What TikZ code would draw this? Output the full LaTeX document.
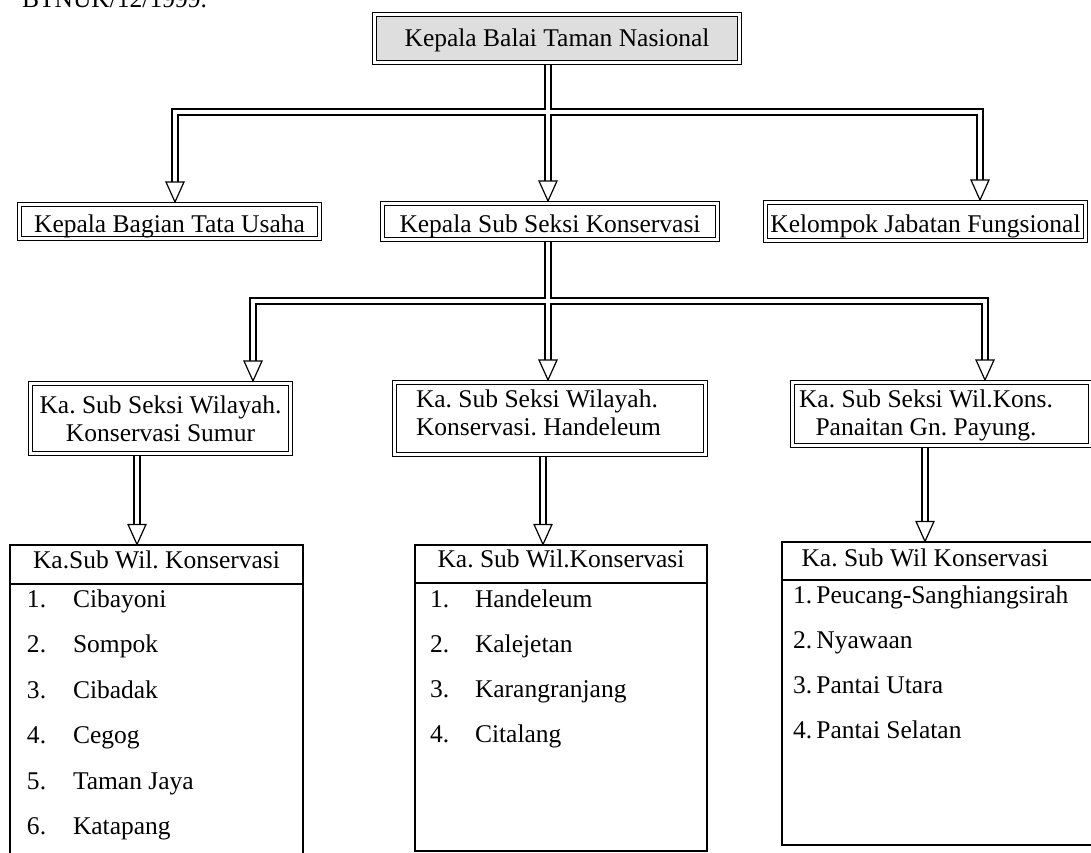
\documentclass[tikz,border=0pt]{standalone}
\usepackage{fontspec}
\setmainfont{Liberation Serif}
\usetikzlibrary{backgrounds,calc}
\frenchspacing
\newcommand\orgnet[1]{%
  \draw[#1] ($(p11)+(0,-19)$) -- (a11) -- (a13) -- ($(p13)+(0,-19)$);
  \draw[#1] (top.center -| j1) -- ($(p12)+(0,-19)$);
  \draw[#1] ($(p21)+(0,-19)$) -- (a21) -- (a23) -- ($(p23)+(0,-19)$);
  \draw[#1] (ksk.center -| j2) -- ($(p22)+(0,-19)$);
  \draw[#1] (sumur.center -| k1) -- ($(p31)+(0,-19)$);
  \draw[#1] (hand.center -| k2) -- ($(p32)+(0,-19)$);
  \draw[#1] (pan.center -| k3) -- ($(p33)+(0,-19)$);
}
\begin{document}
\begin{tikzpicture}[x=1pt,y=-1pt,
  every node/.style={inner sep=0pt, outer sep=0pt, font=\fontsize{25.5}{28}\selectfont\frenchspacing},
  dbox/.style={draw, line width=1.2pt, double, double distance=2.6pt, fill=white},
  topbox/.style={dbox, fill=black!13, text height=21pt, text depth=4pt},
  lvlone/.style={dbox, text height=24pt, text depth=3pt},
  tabhead/.style={draw, line width=1.3pt, fill=white, text height=14pt, text depth=7pt},
  tabline/.style={line width=1.3pt},
  conb/.style={line width=8pt, draw=black, line join=miter},
  conw/.style={line width=4.6pt, draw=white, line join=miter},
  ahead/.style={draw=black, fill=white, line width=1.2pt, line join=miter},
  item/.style={anchor=base west},
]
\useasboundingbox (0,0) rectangle (1091,853);
\clip (0,0) rectangle (1091,853);

\node[anchor=base west] (ref) at (22,8) {BTNUK/12/1999.};

% level 0
\node[topbox, minimum width=365, minimum height=48] (top) at (557,38.5) {Kepala Balai Taman Nasional};

% level 1
\node[lvlone, minimum width=300, minimum height=34] (tu) at (169.5,221.5) {Kepala Bagian Tata Usaha};
\node[lvlone, minimum width=335, minimum height=36] (ksk) at (550,221.5) {Kepala Sub Seksi Konservasi};
\node[lvlone, minimum width=320, minimum height=38] (kf) at (925.5,221.5) {Kelompok Jabatan Fungsional};

% level 2
\node[dbox, align=center, minimum width=260, minimum height=70] (sumur) at (160.5,418.5) {Ka. Sub Seksi Wilayah.\\Konservasi Sumur};
\node[dbox, minimum width=311, minimum height=72] (hand) at (550,418.5) {};
\node[anchor=west, align=left] (handt) at (416,413.3) {Ka. Sub Seksi Wilayah.\\Konservasi. Handeleum};
\node[dbox, minimum width=298, minimum height=63] (pan) at (941.5,414) {};
\node[align=center] (pant) at (926,415) {Ka. Sub Seksi Wil.Kons.\\Panaitan Gn. Payung.};

% tables
\node[tabhead, minimum width=293, minimum height=39] (t1) at (156.5,564.5) {Ka.Sub Wil. Konservasi};
\draw[tabline] (t1.south west) -- ++(0,300);
\draw[tabline] (t1.south east) -- ++(0,300);
\foreach \n/\t [count=\i from 0] in {1./Cibayoni,2./Sompok,3./Cibadak,4./Cegog,5./Taman Jaya,6./Katapang}{
  \node[item] (la\i) at (27,{607+45.5*\i}) {\n};
  \node[item] (lb\i) at (73,{607+45.5*\i}) {\t};
}

\node[tabhead, minimum width=292, minimum height=38] (t2) at (561,564) {Ka. Sub Wil.Konservasi};
\draw[tabline] (t2.south west) -- (t2.south west |- 0,851) -- (t2.south east |- 0,851) -- (t2.south east);
\foreach \n/\t [count=\i from 0] in {1./Handeleum,2./Kalejetan,3./Karangranjang,4./Citalang}{
  \node[item] (ma\i) at (430,{607+45.3*\i}) {\n};
  \node[item] (mb\i) at (475,{607+45.3*\i}) {\t};
}

\node[tabhead, minimum width=318, minimum height=38] (t3) at (941,561) {};
\node (t3t) at (925,558) {Ka. Sub Wil Konservasi};
\draw[tabline] (t3.south west) -- (t3.south west |- 0,845) -- (1100,845);
\foreach \t [count=\i from 0] in {1.\,Peucang-Sanghiangsirah,2.\,Nyawaan,3.\,Pantai Utara,4.\,Pantai Selatan}{
  \node[item] (r\i) at (793,{603+45*\i}) {\t};
}

% connector geometry
\coordinate (j1) at (548,112);
\coordinate (a11) at (175,112);
\coordinate (a13) at (980,112);
\coordinate (j2) at (548,301);
\coordinate (a21) at (253,301);
\coordinate (a23) at (985,301);
\coordinate (k1) at (137,456);
\coordinate (k2) at (543,457);
\coordinate (k3) at (925,448);

\coordinate (p11) at ($(tu.north -| a11)+(0,-2.5)$);
\coordinate (p12) at ($(ksk.north -| j1)+(0,-2.5)$);
\coordinate (p13) at ($(kf.north -| a13)+(0,-2.5)$);
\coordinate (p21) at ($(sumur.north -| a21)+(0,-2.5)$);
\coordinate (p22) at ($(hand.north -| j2)+(0,-2.5)$);
\coordinate (p23) at ($(pan.north -| a23)+(0,-2.5)$);
\coordinate (p31) at ($(t1.north -| k1)+(0,-0.6)$);
\coordinate (p32) at ($(t2.north -| k2)+(0,-0.6)$);
\coordinate (p33) at ($(t3.north -| k3)+(0,-0.6)$);

\begin{pgfonlayer}{background}
  \fill[white] (0,0) rectangle (1091,853);
  \orgnet{conb}
  \orgnet{conw}
\end{pgfonlayer}

\foreach \p in {p11,p12,p13,p21,p22,p23,p31,p32,p33}
  \draw[ahead] (\p) -- ++(-9,-20) -- ++(18,0) -- cycle;
\end{tikzpicture}
\end{document}
